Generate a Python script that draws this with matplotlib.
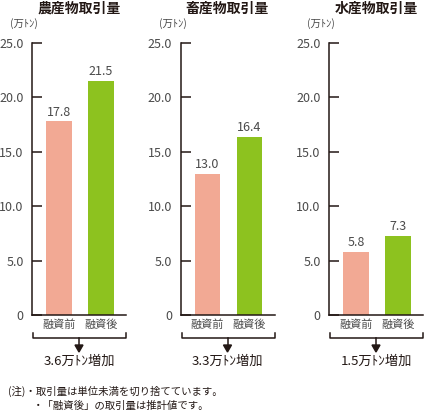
import matplotlib
matplotlib.use("Agg")
import matplotlib.pyplot as plt

plt.rcParams['font.family'] = ['Noto Sans CJK JP', 'DejaVu Sans']

titles = ["農産物取引量", "畜産物取引量", "水産物取引量"]
categories = ["融資前", "融資後"]
before = [17.8, 13.0, 5.8]
after = [21.5, 16.4, 7.3]
increase = ["3.6", "3.3", "1.5"]
yticks = [0, 5.0, 10.0, 15.0, 20.0, 25.0]
ytick_labels = ["0", "5.0", "10.0", "15.0", "20.0", "25.0"]
notes = ["(注)・取引量は単位未満を切り捨てています。", "・「融資後」の取引量は推計値です。"]

W, H = 424, 413
fig = plt.figure(figsize=(W / 100, H / 100), dpi=100)

def fx(px):
    return px / W

def fy(py):
    return 1 - py / H

c_before = "#F2A994"
c_after = "#8DC21F"
dark = "#231815"
grey = "#4a4a4a"

lefts = [32, 180.5, 329]
axw = 94
top_px, bot_px = 43, 315

for i in range(3):
    ax = fig.add_axes([fx(lefts[i]), fy(bot_px), fx(axw), (bot_px - top_px) / H])
    vals = [before[i], after[i]]
    ax.bar([0, 1], vals, width=0.6, color=[c_before, c_after])
    ax.set_xlim(-0.643, 1.595)
    ax.set_ylim(0, 25)
    ax.set_yticks(yticks)
    ax.set_yticklabels(ytick_labels, fontsize=9, color=grey)
    ax.tick_params(axis='y', direction='in', length=7, width=1.1, color=dark, pad=6)
    ax.set_xticks([0, 1])
    ax.set_xticklabels(categories, fontsize=8, color=grey)
    ax.tick_params(axis='x', length=0, pad=3)
    for s in ['top', 'right']:
        ax.spines[s].set_visible(False)
    for s in ['left', 'bottom']:
        ax.spines[s].set_color(dark)
        ax.spines[s].set_linewidth(1.1)
    for x, v in zip([0, 1], vals):
        ax.text(x, v + 0.25, f"{v:.1f}", ha='center', va='bottom', fontsize=9, color=grey)

    cx = lefts[i] + axw / 2
    fig.text(fx(cx), fy(9), titles[i], ha='center', va='center', fontsize=10, fontweight='bold', color=dark)
    fig.text(fx(lefts[i] - 22), fy(24), "(万ﾄﾝ)", ha='left', va='center', fontsize=7.5, color=grey)

    # bracket
    x0, x1 = lefts[i] + 1, lefts[i] + axw
    y0, y1 = 333, 338
    fig.add_artist(plt.Line2D([fx(x0), fx(x0), fx(x1), fx(x1)], [fy(y0), fy(y1), fy(y1), fy(y0)],
                              color=dark, lw=1.1, transform=fig.transFigure))
    fig.add_artist(plt.Line2D([fx(cx), fx(cx)], [fy(y1), fy(347)], color=dark, lw=1.1, transform=fig.transFigure))
    fig.patches.append(plt.Polygon([[fx(cx - 4), fy(345)], [fx(cx + 4), fy(345)], [fx(cx), fy(352)]],
                                   closed=True, color=dark, transform=fig.transFigure))
    fig.text(fx(cx), fy(361), f"{increase[i]}万ﾄﾝ増加", ha='center', va='center', fontsize=9.5, color=dark)

fig.text(fx(8), fy(391), notes[0], ha='left', va='center', fontsize=7.5, color=dark)
fig.text(fx(33), fy(406), notes[1], ha='left', va='center', fontsize=7.5, color=dark)

fig.savefig("out.png", dpi=100)
